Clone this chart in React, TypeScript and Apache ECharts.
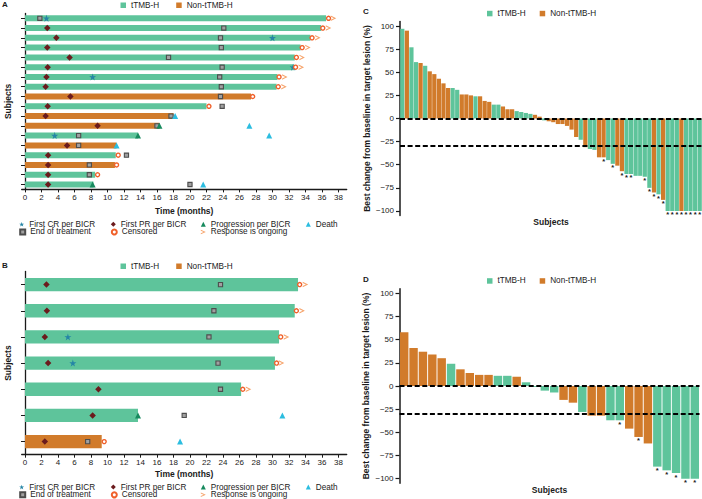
import React, { useEffect, useRef } from 'react';
import * as echarts from 'echarts';

const GREEN = '#5ec49b';
const ORANGE = '#d17b2b';
const FONT = '"Liberation Sans", Arial, Helvetica, sans-serif';
const INK = '#1a1a1a';

const C_CR = '#2585a6';
const C_PR = '#6b1b1d';
const C_PD = '#178a5e';
const C_DEATH = '#2bbde0';
const C_EOT_FILL = '#a0a0a0';
const C_EOT_LINE = '#4d4d4d';
const C_CENS = '#f0602a';
const C_ONGO = '#f6a46c';

const STAR = 'path://M50,0 L61.8,35.1 L98.1,34.5 L69,56.2 L79.4,90.9 L50,69.8 L20.6,90.9 L31,56.2 L1.9,34.5 L38.2,35.1 Z';
const CHEVRON = 'path://M0,0 L100,45 L0,90 L0,70 L58,45 L0,20 Z';

// ---------------- Panel A (swimmer) ----------------
const subjectsA = ['1', '2', '3', '4', '5', '6', '7', '8', '9', '10', '11', '12', '13', '14', '15', '16', '17', '18'];
const durA = [36.5, 35.9, 34.6, 33.4, 32.7, 32.6, 30.6, 30.5, 27.4, 22.0, 18.0, 16.3, 13.7, 11.1, 11.0, 10.9, 8.5, 8.3];
const groupA = ['T', 'T', 'T', 'T', 'T', 'T', 'T', 'T', 'N', 'T', 'N', 'N', 'T', 'N', 'T', 'N', 'T', 'T'];
// [row, month]
const crA = [[0, 2.6], [2, 30.0], [5, 32.5], [6, 8.2], [12, 3.6]];
const prA = [[1, 2.7], [2, 3.8], [3, 2.7], [4, 5.4], [5, 2.75], [6, 2.6], [7, 2.5], [8, 5.5], [9, 2.75], [10, 2.5], [11, 8.8], [13, 5.1], [14, 2.8], [15, 2.8], [16, 2.8], [17, 2.8]];
const pdA = [[11, 16.3], [12, 13.7], [17, 8.2]];
const deathA = [[10, 18.2], [11, 27.2], [12, 29.6], [13, 11.1], [17, 21.6]];
const eotA = [[0, 1.8], [1, 24.1], [2, 23.7], [3, 23.8], [4, 17.4], [5, 23.9], [6, 23.6], [7, 23.8], [8, 23.7], [9, 23.9], [10, 17.7], [11, 16.0], [12, 6.5], [13, 6.5], [14, 12.3], [15, 7.8], [16, 7.8], [17, 20.0]];
const censA = [[0, 36.8], [1, 36.1], [2, 34.8], [3, 33.6], [4, 32.9], [5, 32.8], [6, 30.8], [7, 30.7], [8, 27.6], [9, 22.3], [14, 11.3], [15, 11.1], [16, 8.8]];
const ongoA = [[0, 37.4], [1, 36.8], [2, 35.5], [3, 34.3], [4, 33.6], [5, 33.5], [6, 31.5], [7, 31.4]];

// ---------------- Panel B (swimmer) ----------------
const subjectsB = ['1', '2', '3', '4', '5', '6', '7'];
const durB = [33.1, 32.7, 30.8, 30.3, 26.2, 13.7, 9.3];
const groupB = ['T', 'T', 'T', 'T', 'T', 'T', 'N'];
const crB = [[2, 5.2], [3, 5.8]];
const prB = [[0, 2.6], [1, 2.65], [2, 2.4], [3, 2.8], [4, 8.9], [5, 8.2], [6, 2.4]];
const pdB = [[5, 13.7]];
const deathB = [[5, 31.2], [6, 18.8]];
const eotB = [[0, 23.7], [1, 22.9], [2, 22.3], [3, 23.4], [4, 23.7], [5, 19.3], [6, 7.6]];
const censB = [[0, 33.3], [1, 32.9], [2, 31.0], [3, 30.5], [4, 26.4], [6, 9.6]];
const ongoB = [[0, 34.0], [1, 33.6], [2, 31.7], [3, 31.1], [4, 27.1]];

const timeTicks = [0, 2, 4, 6, 8, 10, 12, 14, 16, 18, 20, 22, 24, 26, 28, 30, 32, 34, 36, 38];

// ---------------- Panel C (waterfall) ----------------
const valuesC = [97, 95, 77, 61, 60, 57, 51, 48, 43, 38,
  33, 33, 31, 26, 26, 25, 24, 24, 19, 18,
  15, 15, 13, 10, 10, 8, 7, 6, 5, 4,
  2, -2, -3, -4, -6, -6, -8, -12, -20, -23,
  -31, -33, -34, -42, -42, -45, -49, -51, -57, -60,
  -60, -62, -62, -63, -75, -80, -82, -88, -100, -100,
  -100, -100, -100, -100, -100, -100];
const groupC = ['T', 'N', 'T', 'T', 'N', 'T', 'N', 'N', 'N', 'N',
  'N', 'T', 'T', 'N', 'N', 'N', 'T', 'N', 'N', 'N',
  'T', 'T', 'N', 'N', 'N', 'T', 'T', 'T', 'T', 'N',
  'N', 'T', 'N', 'N', 'N', 'N', 'N', 'N', 'N', 'T',
  'N', 'T', 'T', 'N', 'N', 'T', 'T', 'N', 'N', 'T',
  'T', 'T', 'T', 'T', 'T', 'N', 'T', 'N', 'T', 'T',
  'T', 'N', 'T', 'T', 'T', 'T'];
const starC = [44, 46, 48, 49, 50, 53, 54, 55, 56, 57, 58, 59, 60, 61, 62, 63, 64, 65];

// ---------------- Panel D (waterfall) ----------------
const valuesD = [58, 41, 37, 34, 30, 24, 18, 14, 12, 12,
  11, 11, 10, 4, -1, -5, -7, -15, -18, -28,
  -32, -32, -37, -37, -46, -55, -62, -87, -91, -94,
  -100, -100];
const groupD = ['N', 'N', 'N', 'N', 'N', 'T', 'N', 'N', 'N', 'N',
  'T', 'T', 'N', 'T', 'T', 'T', 'T', 'N', 'N', 'T',
  'N', 'N', 'T', 'T', 'N', 'N', 'N', 'T', 'T', 'T',
  'T', 'T'];
const starD = [23, 25, 27, 28, 29, 30, 31];

const changeTicks = [-100, -75, -50, -25, 0, 25, 50, 75, 100];
const refLines = [0, -30];

const MARKERS = [
  { name: 'First CR per BICR', symbol: STAR, size: 7, style: { color: C_CR } },
  { name: 'First PR per BICR', symbol: 'diamond', size: 6.5, style: { color: C_PR } },
  { name: 'Progression per BICR', symbol: 'triangle', size: 6, style: { color: C_PD } },
  { name: 'Death', symbol: 'triangle', size: 6, style: { color: C_DEATH } },
  { name: 'End of treatment', symbol: 'rect', size: 4.2, style: { color: C_EOT_FILL, borderColor: C_EOT_LINE, borderWidth: 1.1 } },
  { name: 'Censored', symbol: 'circle', size: 4, style: { color: '#ffffff', borderColor: C_CENS, borderWidth: 1.4 } },
  { name: 'Response is ongoing', symbol: CHEVRON, size: [5.5, 5.5], style: { color: C_ONGO } },
];

function swimmer(gi: number, dur: number[], group: string[], barW: number, marks: number[][][]) {
  const s: any[] = [
    {
      type: 'bar', name: 'tTMB-H', xAxisIndex: gi, yAxisIndex: gi, barWidth: barW, barGap: '-100%',
      itemStyle: { color: GREEN }, data: dur.map((d, i) => (group[i] === 'T' ? d : '-')),
    },
    {
      type: 'bar', name: 'Non-tTMB-H', xAxisIndex: gi, yAxisIndex: gi, barWidth: barW, barGap: '-100%',
      itemStyle: { color: ORANGE }, data: dur.map((d, i) => (group[i] === 'N' ? d : '-')),
    },
  ];
  const order = [4, 1, 0, 2, 3, 5, 6];
  order.forEach((k) => {
    const m = MARKERS[k];
    s.push({
      type: 'scatter', name: m.name, xAxisIndex: gi, yAxisIndex: gi, symbol: m.symbol, symbolSize: m.size,
      itemStyle: { ...m.style, opacity: 1 }, z: 5,
      data: marks[k].map(([r, t]) => [t, r]),
    });
  });
  return s;
}

function waterfall(gi: number, vals: number[], group: string[], stars: number[], gap: string) {
  const mk = (v: number, i: number) =>
    stars.indexOf(i) >= 0
      ? { value: v, label: { show: true, position: 'bottom', distance: 0, formatter: '*', fontSize: 7.5, fontWeight: 'bold', color: INK, fontFamily: FONT } }
      : v;
  return [
    {
      type: 'bar', name: 'tTMB-H', xAxisIndex: gi, yAxisIndex: gi, barGap: '-100%', barCategoryGap: gap,
      itemStyle: { color: GREEN }, data: vals.map((v, i) => (group[i] === 'T' ? mk(v, i) : '-')),
      markLine: {
        silent: true, symbol: 'none', label: { show: false }, z: 10,
        lineStyle: { type: [5, 2.6], color: '#000', width: 1.8 },
        data: refLines.map((y) => ({ yAxis: y })),
      },
    },
    {
      type: 'bar', name: 'Non-tTMB-H', xAxisIndex: gi, yAxisIndex: gi, barGap: '-100%', barCategoryGap: gap,
      itemStyle: { color: ORANGE }, data: vals.map((v, i) => (group[i] === 'N' ? mk(v, i) : '-')),
    },
  ];
}

const axisTitle = { fontWeight: 'bold', fontSize: 8.5, color: INK, fontFamily: FONT };
const tickText = { fontSize: 8, color: '#222', fontFamily: FONT };

function timeAxis(gi: number, gap: number) {
  return {
    type: 'value', gridIndex: gi, min: -0.4, max: 39,
    axisLine: { show: true, onZero: false, lineStyle: { color: INK, width: 1.3 } },
    axisTick: { show: true, length: 3, lineStyle: { color: INK, width: 1 }, customValues: timeTicks },
    axisLabel: { ...tickText, margin: 4, customValues: timeTicks },
    splitLine: { show: false },
    name: 'Time (months)', nameLocation: 'middle', nameGap: gap, nameTextStyle: axisTitle, nameMoveOverlap: false,
  };
}

function subjAxis(gi: number, cats: string[]) {
  return {
    type: 'category', gridIndex: gi, data: cats, inverse: true,
    axisLine: { show: true, lineStyle: { color: INK, width: 1.3 } },
    axisTick: { show: true, alignWithLabel: true, interval: 0, length: 4, lineStyle: { color: INK, width: 1 } },
    axisLabel: { show: false, interval: 0 },
    name: 'Subjects', nameLocation: 'middle', nameGap: 9, nameTextStyle: axisTitle, nameMoveOverlap: false,
  };
}

function changeAxis(gi: number) {
  return {
    type: 'value', gridIndex: gi, min: -105, max: 105,
    axisLine: { show: true, lineStyle: { color: INK, width: 1.5 } },
    axisTick: { show: true, length: 4, lineStyle: { color: INK, width: 1.2 }, customValues: changeTicks },
    axisLabel: { ...tickText, margin: 6, customValues: changeTicks, formatter: (v: number) => (v < 0 ? '\u2212' + Math.abs(v) : String(v)) },
    splitLine: { show: false },
    name: 'Best change from baseline in target lesion (%)', nameLocation: 'middle', nameGap: 29,
    nameTextStyle: axisTitle, nameMoveOverlap: false,
  };
}

function subjCatAxis(gi: number, n: number, prefix: string) {
  const cats: string[] = [];
  for (let i = 0; i < n; i++) cats.push(prefix + (i + 1));
  return {
    type: 'category', gridIndex: gi, data: cats,
    axisLine: { show: false, onZero: false }, axisTick: { show: false }, axisLabel: { show: false },
    name: 'Subjects', nameLocation: 'middle', nameGap: 2, nameTextStyle: axisTitle, nameMoveOverlap: false,
  };
}

const legText = { fontSize: 8.2, color: '#222', fontFamily: FONT, lineHeight: 7.5 };

function barLegend(left: number, cy: number, gap: number) {
  return {
    data: [{ name: 'tTMB-H', icon: 'rect' }, { name: 'Non-tTMB-H', icon: 'rect' }],
    left, top: cy - 3.75, itemWidth: 5.5, itemHeight: 5.5, itemGap: gap, padding: 0, selectedMode: false,
    textStyle: legText,
  };
}

function markerLegends(cy1: number, cy2: number) {
  const pos = [[21.7, cy1], [113.3, cy1], [203.3, cy1], [308.3, cy1], [21.7, cy2], [113.3, cy2], [203.3, cy2]];
  return MARKERS.map((m, k) => ({
    data: [m.name], left: pos[k][0] - 2.5, top: pos[k][1] - 3.75, itemWidth: 5, itemHeight: 5,
    padding: 0, selectedMode: false, textStyle: legText,
  }));
}

export default function App() {
  const ref = useRef<HTMLDivElement>(null);
  useEffect(() => {
    if (!ref.current) return;
    const chart = echarts.init(ref.current, null, { renderer: 'svg' });
    const option: any = {
      animation: false,
      backgroundColor: '#ffffff',
      textStyle: { fontFamily: FONT },
      grid: [
        { left: 21.7, top: 13.4, width: 325, height: 176, outerBoundsMode: 'none', containLabel: false },
        { left: 21.7, top: 271.5, width: 325, height: 183.2, outerBoundsMode: 'none', containLabel: false },
        { left: 400, top: 21.4, width: 302, height: 194.2, outerBoundsMode: 'none', containLabel: false },
        { left: 399.5, top: 288.7, width: 300, height: 194.6, outerBoundsMode: 'none', containLabel: false },
      ],
      xAxis: [timeAxis(0, 17.5), timeAxis(1, 14.5), subjCatAxis(2, valuesC.length, 'C'), subjCatAxis(3, valuesD.length, 'D')],
      yAxis: [subjAxis(0, subjectsA), subjAxis(1, subjectsB), changeAxis(2), changeAxis(3)],
      legend: [
        barLegend(120.5, 5, 17),
        barLegend(120.5, 266, 17),
        barLegend(487, 13.3, 14),
        barLegend(487, 280.7, 14),
        ...markerLegends(224, 231.7),
        ...markerLegends(486.8, 494.6),
      ],
      graphic: [
        { type: 'text', left: 2, top: 0, style: { text: 'A', font: `bold 8px ${FONT}`, fill: INK } },
        { type: 'text', left: 2, top: 261, style: { text: 'B', font: `bold 8px ${FONT}`, fill: INK } },
        { type: 'text', left: 363, top: 7, style: { text: 'C', font: `bold 8px ${FONT}`, fill: INK } },
        { type: 'text', left: 363, top: 275, style: { text: 'D', font: `bold 8px ${FONT}`, fill: INK } },
      ],
      series: [
        ...swimmer(0, durA, groupA, 6, [crA, prA, pdA, deathA, eotA, censA, ongoA]),
        ...swimmer(1, durB, groupB, 13.3, [crB, prB, pdB, deathB, eotB, censB, ongoB]),
        ...waterfall(2, valuesC, groupC, starC, '8%'),
        ...waterfall(3, valuesD, groupD, starD, '10%'),
      ],
    };
    chart.setOption(option);
    return () => chart.dispose();
  }, []);
  return (
    <div
      ref={ref}
      style={{ position: 'fixed', left: 0, top: 0, width: 702, height: 499, background: '#fff' }}
    />
  );
}
